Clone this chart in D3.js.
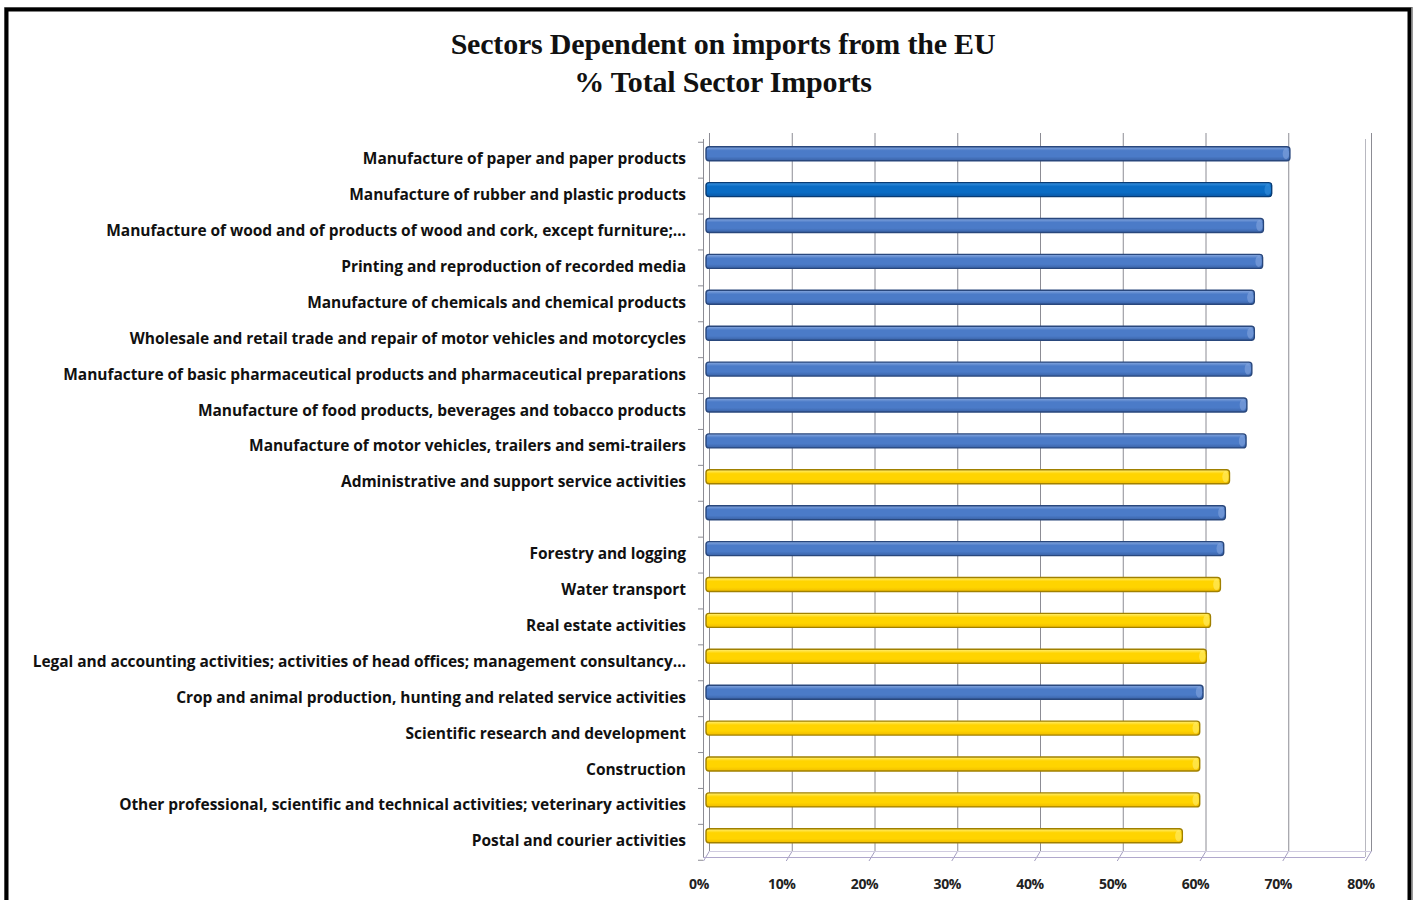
<!DOCTYPE html>
<html>
<head>
<meta charset="utf-8">
<script src="https://cdn.jsdelivr.net/npm/d3@7/dist/d3.min.js"></script>
<style>
  html, body { margin: 0; padding: 0; background: #fff; }
  svg { display: block; }
</style>
</head>
<body>
<svg id="chart" width="1415" height="900"></svg>
<script>
// Sector names, top to bottom (one row has no label)
const sectors = [
  "Manufacture of paper and paper products",
  "Manufacture of rubber and plastic products",
  "Manufacture of wood and of products of wood and cork, except furniture;\u2026",
  "Printing and reproduction of recorded media",
  "Manufacture of chemicals and chemical products",
  "Wholesale and retail trade and repair of motor vehicles and motorcycles",
  "Manufacture of basic pharmaceutical products and pharmaceutical preparations",
  "Manufacture of food products, beverages and tobacco products",
  "Manufacture of motor vehicles, trailers and semi-trailers",
  "Administrative and support service activities",
  "",
  "Forestry and logging",
  "Water transport",
  "Real estate activities",
  "Legal and accounting activities; activities of head offices; management consultancy\u2026",
  "Crop and animal production, hunting and related service activities",
  "Scientific research and development",
  "Construction",
  "Other professional, scientific and technical activities; veterinary activities",
  "Postal and courier activities"
];

// Share of total sector imports coming from the EU (%)
const shares = [70.2, 68.0, 67.0, 66.9, 65.9, 65.9, 65.6, 65.0, 64.9, 62.9,
                62.4, 62.2, 61.8, 60.6, 60.1, 59.7, 59.3, 59.3, 59.3, 57.2];

// Bar colour group: goods sectors, one highlighted goods sector, services
const groups = ["goods", "goodsDark", "goods", "goods", "goods", "goods", "goods", "goods", "goods", "services",
                "goods", "goods", "services", "services", "services", "goods", "services", "services", "services", "services"];

const xTicks = [0, 10, 20, 30, 40, 50, 60, 70, 80];
const titleLines = ["Sectors Dependent on imports from the EU", "% Total Sector Imports"];

const svg = d3.select("#chart");

// Outer frame
svg.append("rect").attr("x", 4.5).attr("y", 7.5).attr("width", 1408).attr("height", 900)
  .attr("fill", "none").attr("stroke", "#999").attr("stroke-width", 1);
svg.append("rect").attr("x", 6.5).attr("y", 9.5).attr("width", 1403).attr("height", 900)
  .attr("fill", "none").attr("stroke", "#000").attr("stroke-width", 4);

// Title
svg.append("g").selectAll("text").data(titleLines).join("text")
  .attr("x", 723).attr("y", (d, i) => 54 + i * 38)
  .attr("text-anchor", "middle")
  .attr("font-family", "'Liberation Serif', 'DejaVu Serif', serif")
  .attr("font-weight", "bold").attr("font-size", 30)
  .attr("letter-spacing", -0.2)
  .attr("fill", "#111").text(d => d);

// 3D depth offset between the back wall and the front edge of the floor
const depth = { dx: 6, dy: 6 };
const wallTop = 133, floorBack = 851, floorFront = floorBack + depth.dy;

const x = d3.scaleLinear().domain([0, 80]).range([709, 1371]);
const y = d3.scaleBand().domain(d3.range(sectors.length)).range([135.75, 853.75]).paddingInner(0);

// Back-wall gridlines and their continuation across the floor
const grid = svg.append("g").attr("stroke", "#8c8c94").attr("stroke-width", 1).attr("fill", "none");
grid.selectAll("line.v").data(xTicks).join("line").attr("class", "v")
  .attr("x1", d => x(d) + 0.5).attr("x2", d => x(d) + 0.5)
  .attr("y1", wallTop).attr("y2", floorBack);
grid.selectAll("line.f").data(xTicks).join("line").attr("class", "f")
  .attr("stroke", "#a49ec0")
  .attr("x1", d => x(d) + 0.5).attr("y1", floorBack)
  .attr("x2", d => x(d) - depth.dx + 0.5).attr("y2", floorFront + 4);
// Right wall front edge
grid.append("line").attr("stroke", "#b8b8c0")
  .attr("x1", x(80) - depth.dx + 0.5).attr("x2", x(80) - depth.dx + 0.5)
  .attr("y1", wallTop + depth.dy).attr("y2", floorFront);
// Floor edges
grid.append("line").attr("stroke", "#b0a8cc")
  .attr("x1", x(0) - depth.dx).attr("x2", x(80) - depth.dx)
  .attr("y1", floorFront + 0.5).attr("y2", floorFront + 0.5);
grid.append("line").attr("stroke", "#d0cce0")
  .attr("x1", x(0)).attr("x2", x(80))
  .attr("y1", floorBack + 0.5).attr("y2", floorBack + 0.5);

// Left wall with category ticks
const wall = svg.append("g").attr("stroke", "#8c8c94").attr("stroke-width", 1);
wall.append("line").attr("x1", x(0) - depth.dx + 0.5).attr("x2", x(0) - depth.dx + 0.5)
  .attr("y1", wallTop + depth.dy).attr("y2", floorFront);
wall.selectAll("line.t").data(d3.range(sectors.length + 1)).join("line").attr("class", "t")
  .attr("x1", x(0) - depth.dx - 5).attr("x2", x(0) - depth.dx)
  .attr("y1", i => 135.75 + i * y.step() + depth.dy + 0.5)
  .attr("y2", i => 135.75 + i * y.step() + depth.dy + 0.5);

// Bar shading: lighter top, darker underside
const palette = {
  goods:     { top: "#8aaae0", mid: "#4b7bc8", low: "#3a62a6", edge: "#29477c" },
  goodsDark: { top: "#3b93e0", mid: "#0a6cc4", low: "#0a58a6", edge: "#083c75" },
  services:  { top: "#fff07a", mid: "#ffd400", low: "#f0bc00", edge: "#a08000" }
};
const defs = svg.append("defs");
Object.entries(palette).forEach(([k, c]) => {
  const g = defs.append("linearGradient").attr("id", "grad-" + k)
    .attr("x1", 0).attr("y1", 0).attr("x2", 0).attr("y2", 1);
  g.append("stop").attr("offset", "0%").attr("stop-color", c.top);
  g.append("stop").attr("offset", "28%").attr("stop-color", c.mid);
  g.append("stop").attr("offset", "70%").attr("stop-color", c.mid);
  g.append("stop").attr("offset", "100%").attr("stop-color", c.low);
});

const barH = 14;
const bars = svg.append("g").selectAll("g").data(shares).join("g")
  .attr("transform", (d, i) => `translate(0,${y(i) + y.bandwidth() / 2 - barH / 2})`);
bars.append("rect")
  .attr("x", x(0) - 3).attr("y", 0)
  .attr("width", d => x(d) - x(0) + 3).attr("height", barH)
  .attr("rx", 3).attr("ry", 3)
  .attr("fill", (d, i) => `url(#grad-${groups[i]})`)
  .attr("stroke", (d, i) => palette[groups[i]].edge).attr("stroke-width", 1.4);
// End cap of each bar
bars.append("ellipse")
  .attr("cx", d => x(d) - 4).attr("cy", barH / 2)
  .attr("rx", 3.2).attr("ry", barH / 2 - 1.5)
  .attr("fill", (d, i) => palette[groups[i]].top).attr("opacity", 0.55);

// Category labels
svg.append("g").selectAll("text").data(sectors).join("text")
  .attr("x", 686).attr("y", (d, i) => y(i) + y.bandwidth() / 2 + 10.5)
  .attr("text-anchor", "end")
  .attr("font-family", "'Open Sans', Lato, sans-serif")
  .attr("font-weight", "bold").attr("font-size", 15.5)
  .attr("letter-spacing", -0.05)
  .attr("fill", "#111").text(d => d);

// Value axis labels along the front edge of the floor
svg.append("g").selectAll("text").data(xTicks).join("text")
  .attr("x", d => x(d) - depth.dx - 4).attr("y", 889)
  .attr("text-anchor", "middle")
  .attr("font-family", "'Open Sans', Lato, sans-serif")
  .attr("font-weight", "bold").attr("font-size", 14)
  .attr("letter-spacing", -0.4)
  .attr("fill", "#222").text(d => d + "%");
</script>
</body>
</html>
